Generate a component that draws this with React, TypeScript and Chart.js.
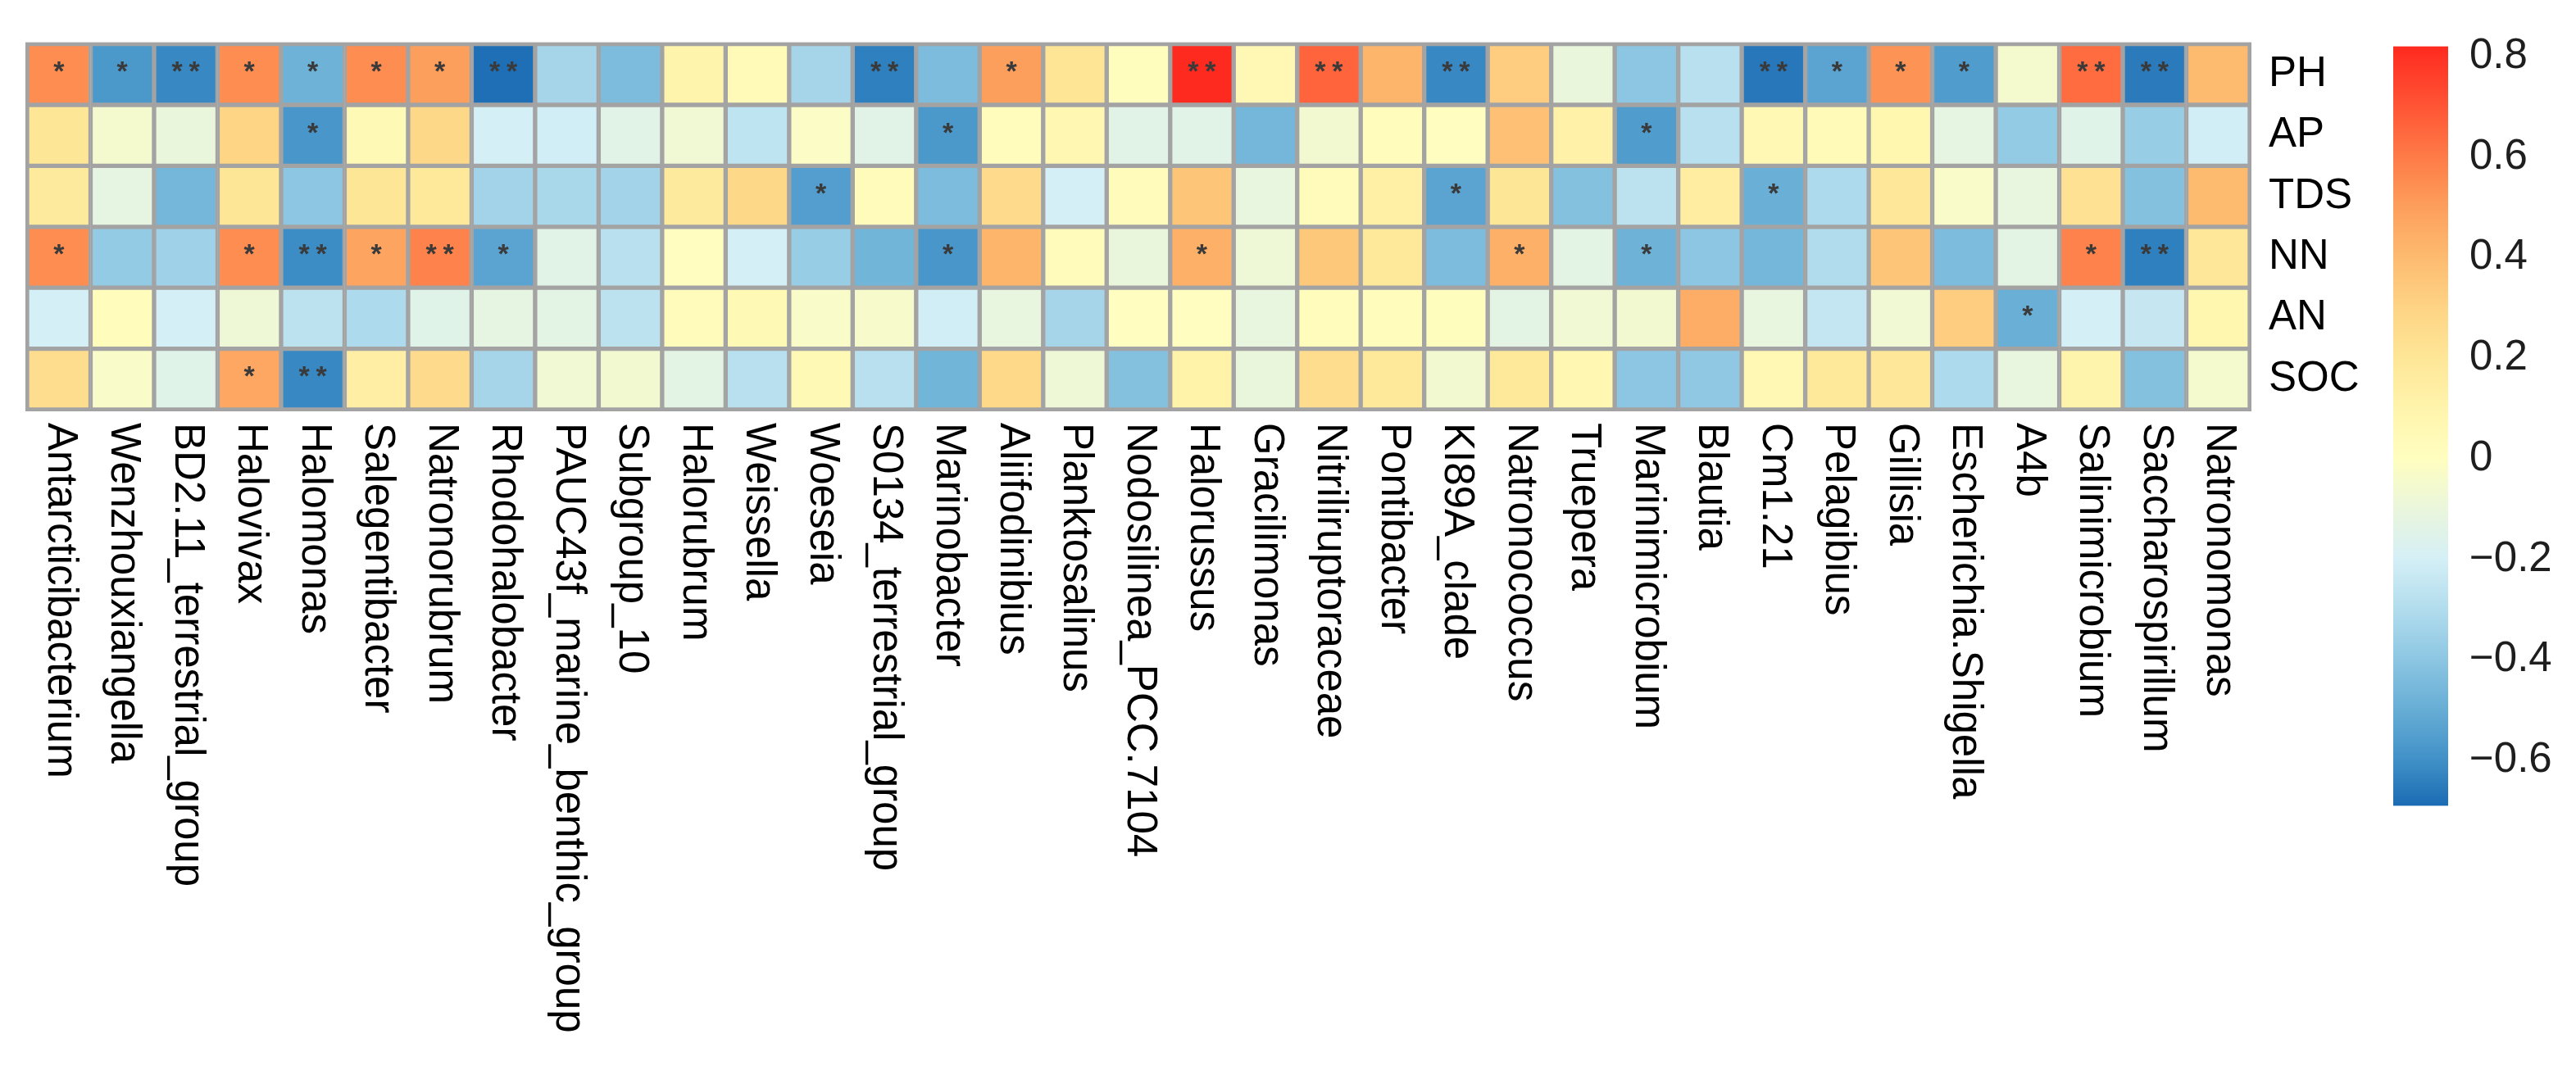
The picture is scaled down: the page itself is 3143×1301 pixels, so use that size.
import React, { useEffect, useRef } from 'react';
import { Chart, registerables } from 'chart.js';

Chart.register(...registerables);

const genera = [
  'Antarcticibacterium', 'Wenzhouxiangella', 'BD2.11_terrestrial_group', 'Halovivax', 'Halomonas',
  'Salegentibacter', 'Natronorubrum', 'Rhodohalobacter', 'PAUC43f_marine_benthic_group', 'Subgroup_10',
  'Halorubrum', 'Weissella', 'Woeseia', 'S0134_terrestrial_group', 'Marinobacter',
  'Aliifodinibius', 'Planktosalinus', 'Nodosilinea_PCC.7104', 'Halorussus', 'Gracilimonas',
  'Nitriliruptoraceae', 'Pontibacter', 'KI89A_clade', 'Natronococcus', 'Truepera',
  'Marinimicrobium', 'Blautia', 'Cm1.21', 'Pelagibius', 'Gillisia',
  'Escherichia.Shigella', 'A4b', 'Salinimicrobium', 'Saccharospirillum', 'Natronomonas',
];

const envVars = ['PH', 'AP', 'TDS', 'NN', 'AN', 'SOC'];

const rPH = [0.55, -0.57, -0.62, 0.55, -0.48, 0.55, 0.5, -0.68, -0.33, -0.44, 0.1, 0.04, -0.33, -0.64, -0.44, 0.5, 0.21, 0.01, 0.82, 0.06, 0.66, 0.42, -0.62, 0.33, -0.1, -0.4, -0.28, -0.66, -0.53, 0.53, -0.56, -0.05, 0.64, -0.65, 0.4];
const rAP = [0.2, -0.05, -0.1, 0.3, -0.58, 0.05, 0.28, -0.2, -0.21, -0.14, -0.07, -0.26, -0.02, -0.14, -0.57, 0.02, 0.07, -0.14, -0.14, -0.46, -0.06, 0.02, 0.0, 0.38, 0.12, -0.56, -0.28, 0.06, 0.04, 0.08, -0.12, -0.38, -0.15, -0.37, -0.21];
const rTDS = [0.17, -0.12, -0.46, 0.2, -0.4, 0.2, 0.18, -0.34, -0.32, -0.34, 0.17, 0.28, -0.55, 0.03, -0.44, 0.26, -0.2, 0.03, 0.36, -0.11, 0.03, 0.13, -0.53, 0.2, -0.42, -0.27, 0.15, -0.49, -0.31, 0.19, -0.03, -0.11, 0.23, -0.42, 0.4];
const rNN = [0.55, -0.38, -0.35, 0.55, -0.61, 0.48, 0.58, -0.53, -0.14, -0.28, 0.0, -0.2, -0.37, -0.47, -0.58, 0.42, 0.03, -0.1, 0.44, -0.08, 0.35, 0.18, -0.44, 0.44, -0.13, -0.48, -0.4, -0.46, -0.3, 0.36, -0.44, -0.13, 0.58, -0.64, 0.19];
const rAN = [-0.2, 0.02, -0.2, -0.08, -0.27, -0.31, -0.15, -0.12, -0.13, -0.27, 0.03, 0.05, -0.03, -0.04, -0.21, -0.11, -0.33, 0.0, 0.0, -0.11, 0.02, 0.02, 0.01, -0.13, -0.07, -0.06, 0.45, -0.11, -0.25, -0.07, 0.33, -0.49, -0.2, -0.24, 0.08];
const rSOC = [0.25, -0.03, -0.15, 0.47, -0.62, 0.14, 0.26, -0.33, -0.07, -0.06, -0.13, -0.28, 0.05, -0.28, -0.47, 0.27, -0.08, -0.42, 0.11, -0.1, 0.25, 0.18, -0.06, 0.18, 0.07, -0.4, -0.39, 0.06, 0.18, 0.19, -0.31, -0.11, 0.1, -0.42, -0.05];

// significance: 0 none, 1 "*", 2 "**"
const sPH = [1, 1, 2, 1, 1, 1, 1, 2, 0, 0, 0, 0, 0, 2, 0, 1, 0, 0, 2, 0, 2, 0, 2, 0, 0, 0, 0, 2, 1, 1, 1, 0, 2, 2, 0];
const sAP = [0, 0, 0, 0, 1, 0, 0, 0, 0, 0, 0, 0, 0, 0, 1, 0, 0, 0, 0, 0, 0, 0, 0, 0, 0, 1, 0, 0, 0, 0, 0, 0, 0, 0, 0];
const sTDS = [0, 0, 0, 0, 0, 0, 0, 0, 0, 0, 0, 0, 1, 0, 0, 0, 0, 0, 0, 0, 0, 0, 1, 0, 0, 0, 0, 1, 0, 0, 0, 0, 0, 0, 0];
const sNN = [1, 0, 0, 1, 2, 1, 2, 1, 0, 0, 0, 0, 0, 0, 1, 0, 0, 0, 1, 0, 0, 0, 0, 1, 0, 1, 0, 0, 0, 0, 0, 0, 1, 2, 0];
const sAN = [0, 0, 0, 0, 0, 0, 0, 0, 0, 0, 0, 0, 0, 0, 0, 0, 0, 0, 0, 0, 0, 0, 0, 0, 0, 0, 0, 0, 0, 0, 0, 1, 0, 0, 0];
const sSOC = [0, 0, 0, 1, 2, 0, 0, 0, 0, 0, 0, 0, 0, 0, 0, 0, 0, 0, 0, 0, 0, 0, 0, 0, 0, 0, 0, 0, 0, 0, 0, 0, 0, 0, 0];

const cbTicks = [0.8, 0.6, 0.4, 0.2, 0, -0.2, -0.4, -0.6];
const cbRange = [-0.69, 0.82];

const stopValues = [-0.69, -0.6, -0.5, -0.4, -0.3, -0.2, -0.1, 0.0, 0.1, 0.2, 0.3, 0.4, 0.5, 0.6, 0.7, 0.82];
const stopColors = ['#1a6bb3', '#4090c7', '#66add5', '#8cc6e2', '#b1dced', '#d4eff6', '#eaf6dc', '#fffec0',
  '#fff4ac', '#fee697', '#fed485', '#fdbb70', '#fd9f5c', '#fe7b47', '#ff5535', '#ff2a1f'];

const FONT = '"Liberation Sans", Arial, Helvetica, sans-serif';
const GRID_COLOR = '#a3a3a3';

function hexToRgb(h: string): number[] {
  const n = parseInt(h.slice(1), 16);
  return [(n >> 16) & 255, (n >> 8) & 255, n & 255];
}

function colorFor(v: number): string {
  if (v <= stopValues[0]) return stopColors[0];
  if (v >= stopValues[stopValues.length - 1]) return stopColors[stopColors.length - 1];
  for (let i = 0; i < stopValues.length - 1; i++) {
    const a = stopValues[i];
    const b = stopValues[i + 1];
    if (v >= a && v <= b) {
      const t = (v - a) / (b - a);
      const c1 = hexToRgb(stopColors[i]);
      const c2 = hexToRgb(stopColors[i + 1]);
      const c = c1.map((x, k) => Math.round(x + (c2[k] - x) * t));
      return `rgb(${c[0]},${c[1]},${c[2]})`;
    }
  }
  return stopColors[0];
}

function fmtTick(v: number): string {
  const s = Math.abs(v).toFixed(1).replace(/\.0$/, '');
  if (Math.abs(v) < 1e-9) return '0';
  return v < 0 ? '\u2212' + s : s;
}

export default function App() {
  const mainRef = useRef<HTMLCanvasElement | null>(null);
  const cbRef = useRef<HTMLCanvasElement | null>(null);

  useEffect(() => {
    const rows = [rPH, rAP, rTDS, rNN, rAN, rSOC];
    const sigs = [sPH, sAP, sTDS, sNN, sAN, sSOC];

    const datasets = envVars
      .map((name, r) => ({
        label: name,
        data: genera.map(() => 1),
        backgroundColor: rows[r].map(colorFor),
        borderColor: GRID_COLOR,
        borderWidth: 3,
        borderSkipped: false as const,
        barPercentage: 1,
        categoryPercentage: 1,
      }))
      .reverse();

    const cellPlugin = {
      id: 'cellDecor',
      afterDatasetsDraw(chart: any) {
        const { ctx, chartArea } = chart;
        const xs = chart.scales.x;
        const ys = chart.scales.y;
        ctx.save();
        ctx.strokeStyle = GRID_COLOR;
        ctx.lineWidth = 4;
        ctx.strokeRect(chartArea.left, chartArea.top, chartArea.right - chartArea.left, chartArea.bottom - chartArea.top);

        ctx.fillStyle = '#3a3a3a';
        ctx.font = `bold 34px ${FONT}`;
        ctx.textAlign = 'center';
        ctx.textBaseline = 'middle';
        sigs.forEach((row, r) => {
          row.forEach((s, i) => {
            if (!s) return;
            const cx = xs.getPixelForValue(i);
            const cy = ys.getPixelForValue(5.5 - r) - 2;
            if (s === 1) {
              ctx.fillText('*', cx, cy);
            } else {
              ctx.fillText('*', cx - 10.5, cy);
              ctx.fillText('*', cx + 10.5, cy);
            }
          });
        });

        ctx.fillStyle = '#000000';
        ctx.font = `51px ${FONT}`;
        ctx.textAlign = 'left';
        ctx.textBaseline = 'middle';
        genera.forEach((g, i) => {
          ctx.save();
          ctx.translate(xs.getPixelForValue(i) + 1, chartArea.bottom + 16);
          ctx.rotate(Math.PI / 2);
          ctx.fillText(g, 0, 0);
          ctx.restore();
        });
        ctx.restore();
      },
    };

    const main = new Chart(mainRef.current as HTMLCanvasElement, {
      type: 'bar',
      data: { labels: genera, datasets: datasets as any },
      options: {
        responsive: false,
        animation: false,
        layout: { padding: { left: 33, top: 33, right: 0, bottom: 801 } },
        plugins: { legend: { display: false }, tooltip: { enabled: false } },
        scales: {
          x: { stacked: true, display: false },
          y: {
            type: 'linear',
            position: 'right',
            stacked: true,
            min: 0,
            max: 6,
            grid: { display: false, drawTicks: false },
            border: { display: false },
            afterBuildTicks: (s: any) => {
              s.ticks = envVars.map((_, i) => ({ value: 5.5 - i }));
            },
            afterFit: (s: any) => {
              s.width = 155;
            },
            ticks: {
              padding: 23,
              color: '#000000',
              font: { family: FONT, size: 51 },
              callback: (v: any) => envVars[Math.round(5.5 - Number(v))],
            },
          },
        },
      },
      plugins: [cellPlugin],
    });

    const cb = new Chart(cbRef.current as HTMLCanvasElement, {
      type: 'bar',
      data: {
        labels: [''],
        datasets: [
          {
            data: [cbRange as any],
            backgroundColor: (c: any) => {
              const ch = c.chart;
              if (!ch.chartArea) return stopColors[0];
              const ys = ch.scales.y;
              const y0 = ys.getPixelForValue(cbRange[0]);
              const y1 = ys.getPixelForValue(cbRange[1]);
              const g = ch.ctx.createLinearGradient(0, y0, 0, y1);
              stopValues.forEach((v) => {
                const off = Math.min(1, Math.max(0, (v - cbRange[0]) / (cbRange[1] - cbRange[0])));
                g.addColorStop(off, colorFor(v));
              });
              return g;
            },
            borderWidth: 0,
            barPercentage: 1,
            categoryPercentage: 1,
          },
        ],
      },
      options: {
        responsive: false,
        animation: false,
        layout: { padding: { left: 20, top: 35, right: 0, bottom: 38 } },
        plugins: { legend: { display: false }, tooltip: { enabled: false } },
        scales: {
          x: { display: false },
          y: {
            type: 'linear',
            position: 'right',
            min: cbRange[0],
            max: cbRange[1],
            grid: { display: false, drawTicks: false },
            border: { display: false },
            afterBuildTicks: (s: any) => {
              s.ticks = cbTicks.map((v) => ({ value: v }));
            },
            afterFit: (s: any) => {
              s.width = 156;
            },
            ticks: {
              padding: 26,
              color: '#1e1e1e',
              font: { family: FONT, size: 51 },
              callback: (v: any) => fmtTick(Number(v)),
            },
          },
        },
      },
    });

    return () => {
      main.destroy();
      cb.destroy();
    };
  }, []);

  return (
    <div style={{ position: 'fixed', left: 0, top: 0, width: 3143, height: 1301, background: '#ffffff', overflow: 'hidden' }}>
      <canvas ref={mainRef} width={2900} height={1301} style={{ position: 'absolute', left: 0, top: 0, width: 2900, height: 1301 }} />
      <canvas ref={cbRef} width={243} height={1040} style={{ position: 'absolute', left: 2900, top: 0, width: 243, height: 1040 }} />
    </div>
  );
}
